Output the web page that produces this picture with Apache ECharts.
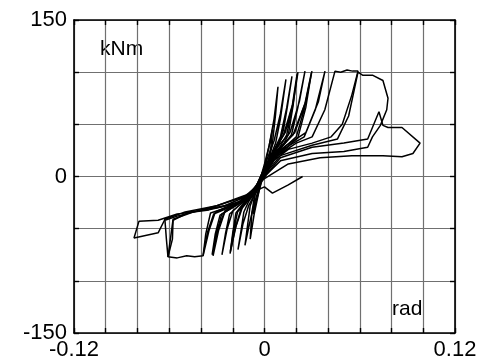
<!DOCTYPE html>
<html>
<head>
<meta charset="utf-8">
<script src="https://cdn.jsdelivr.net/npm/echarts@6/dist/echarts.min.js"></script>
<style>
  html, body { margin: 0; padding: 0; background: #fff; }
  #chart { width: 486px; height: 362px; }
</style>
</head>
<body>
<div id="chart"></div>
<script>
// Tick labels shown on the axes (grid lines every 0.02 rad / 50 kNm)
const xTickLabels = ['-0.12', '0', '0.12'];
const yTickLabels = ['-150', '0', '150'];

// Hysteresis cycles, [rotation rad, moment kNm]
const loop1 = [[0, 0], [0.002, 12], [0.004, 28], [0.005, 45], [0.003, 30], [0.000, 8], [-0.003, -6], [-0.006, -18],
  [-0.007, -36], [-0.005, -22], [-0.002, -6], [0.000, 4]];
const loop2 = [[0.000, 4], [0.003, 16], [0.005, 32], [0.007, 60], [0.0085, 86], [0.006, 55], [0.003, 30], [0.000, 12],
  [-0.003, -4], [-0.006, -16], [-0.008, -35], [-0.009, -60], [-0.0065, -36], [-0.004, -18], [-0.002, -4], [0.001, 8]];
const loop3 = [[0.001, 8], [0.004, 20], [0.007, 32], [0.010, 55], [0.0135, 93], [0.010, 60], [0.006, 34], [0.002, 18],
  [-0.002, 0], [-0.006, -16], [-0.009, -28], [-0.0105, -45], [-0.0123, -66], [-0.009, -42], [-0.006, -24], [-0.003, -8], [0.000, 6]];
const loop4 = [[0.000, 6], [0.005, 20], [0.009, 30], [0.012, 45], [0.0145, 68], [0.0173, 96], [0.014, 66], [0.010, 38],
  [0.005, 22], [0.000, 6], [-0.005, -12], [-0.010, -24], [-0.013, -34], [-0.0148, -52], [-0.0167, -70], [-0.0135, -45],
  [-0.010, -28], [-0.005, -14], [0.000, 2]];
const loop5 = [[0.000, 2], [0.005, 20], [0.010, 29], [0.014, 40], [0.0175, 66], [0.0211, 100], [0.018, 70], [0.013, 42],
  [0.007, 27], [0.001, 10], [-0.005, -10], [-0.012, -24], [-0.017, -34], [-0.0195, -52], [-0.0217, -74], [-0.0185, -50],
  [-0.015, -32], [-0.008, -18], [-0.002, -2]];
const loop5b = [[-0.002, -2], [0.006, 18], [0.011, 28], [0.015, 40], [0.018, 68], [0.0205, 98], [0.0175, 68], [0.012, 40],
  [0.006, 25], [0.000, 8], [-0.006, -12], [-0.013, -25], [-0.018, -35], [-0.020, -54], [-0.0215, -72], [-0.018, -48],
  [-0.014, -30], [-0.007, -17], [-0.002, -2]];
const loop6 = [[-0.002, -2], [0.005, 20], [0.012, 30], [0.017, 40], [0.021, 66], [0.0255, 101], [0.022, 72], [0.016, 42],
  [0.008, 28], [0.001, 12], [-0.006, -12], [-0.014, -25], [-0.022, -36], [-0.0245, -54], [-0.0268, -75], [-0.0235, -50],
  [-0.020, -33], [-0.010, -20], [-0.003, -4]];
const loop7 = [[-0.003, -4], [0.006, 20], [0.014, 30], [0.020, 38], [0.025, 64], [0.0299, 101], [0.026, 72], [0.019, 42],
  [0.010, 28], [0.002, 12], [-0.006, -14], [-0.016, -26], [-0.027, -36], [-0.030, -54], [-0.0324, -76], [-0.029, -52],
  [-0.025, -34], [-0.012, -22], [-0.003, -6]];
const loop7b = [[-0.003, -6], [0.007, 18], [0.015, 29], [0.021, 37], [0.026, 66], [0.0295, 99], [0.0255, 70], [0.018, 40],
  [0.009, 26], [0.001, 10], [-0.007, -15], [-0.017, -27], [-0.028, -37], [-0.031, -55], [-0.0330, -75], [-0.0295, -50],
  [-0.025, -33], [-0.012, -21], [-0.003, -6]];
const loop8 = [[-0.003, -6], [0.007, 20], [0.016, 30], [0.025, 38], [0.032, 64], [0.0381, 101], [0.034, 72], [0.026, 42],
  [0.014, 30], [0.003, 14], [-0.006, -14], [-0.018, -27], [-0.032, -36], [-0.036, -54], [-0.0387, -76], [-0.035, -52],
  [-0.031, -34], [-0.016, -24], [-0.004, -8]];
const loop9 = [[-0.004, -8], [0.008, 20], [0.020, 32], [0.030, 38], [0.038, 64], [0.0444, 101], [0.048, 100], [0.052, 102],
  [0.0555, 101], [0.0589, 101], [0.055, 78], [0.049, 50], [0.042, 38], [0.030, 32], [0.015, 26], [0.003, 12],
  [-0.006, -16], [-0.020, -28], [-0.034, -35], [-0.037, -55], [-0.0387, -76], [-0.044, -77], [-0.049, -76],
  [-0.055, -78], [-0.0608, -77], [-0.0576, -41], [-0.045, -34], [-0.025, -28], [-0.010, -18], [-0.003, -4]];
const loop10 = [[-0.003, -4], [0.010, 20], [0.030, 30], [0.046, 36], [0.053, 58], [0.0589, 100], [0.062, 97],
  [0.0683, 97], [0.0746, 92], [0.0778, 75], [0.077, 64], [0.073, 49], [0.068, 38], [0.065, 28], [0.050, 24],
  [0.030, 22], [0.010, 15], [0.000, 0], [-0.010, -22], [-0.030, -30], [-0.040, -32], [-0.055, -38], [-0.0627, -42],
  [-0.0618, -60], [-0.0608, -77], [-0.058, -60], [-0.0576, -42], [-0.050, -36], [-0.030, -28], [-0.010, -18], [-0.002, -4]];
const loop11 = [[-0.002, -4], [0.010, 18], [0.030, 28], [0.050, 32], [0.065, 36], [0.0721, 62], [0.0746, 49],
  [0.0778, 47], [0.0866, 47], [0.098, 32], [0.0935, 22], [0.0866, 19], [0.0746, 20], [0.055, 20], [0.035, 18],
  [0.015, 12], [0.000, -2], [-0.015, -25], [-0.035, -32], [-0.055, -36], [-0.067, -42], [-0.0791, -43],
  [-0.0822, -59], [-0.067, -54], [-0.0627, -41], [-0.050, -34], [-0.030, -28], [-0.012, -18], [0.000, -10],
  [0.005, -16], [0.015, -8], [0.024, 0]];

const loops = [loop1, loop2, loop3, loop4, loop5, loop5b, loop6, loop7, loop7b, loop8, loop9, loop10, loop11];

const FONT = '"Liberation Sans", Arial, sans-serif';

function pick(labels) {
  return (v) => {
    const s = String(Number(v.toFixed(2)));
    return labels.includes(s) ? s : '';
  };
}

const frameAxis = {
  axisLine: { show: true, onZero: false, lineStyle: { color: '#000', width: 1.6 } },
  axisTick: { show: true, inside: true, length: 5, lineStyle: { color: '#000', width: 1.4 } },
};

const chart = echarts.init(document.getElementById('chart'), null, { renderer: 'canvas' });

chart.setOption({
  animation: false,
  backgroundColor: '#fff',
  grid: { left: 74, right: 31, top: 20, bottom: 29, containLabel: false },
  xAxis: [
    {
      type: 'value', min: -0.12, max: 0.12, interval: 0.02, position: 'bottom',
      ...frameAxis,
      axisLabel: { formatter: pick(xTickLabels), color: '#000', fontSize: 22, fontFamily: FONT, margin: 6, showMinLabel: true, showMaxLabel: true },
      splitLine: { show: true, lineStyle: { color: '#707070', width: 1.2 } },
    },
    {
      type: 'value', min: -0.12, max: 0.12, interval: 0.02, position: 'top',
      ...frameAxis,
      axisLabel: { show: false },
      splitLine: { show: false },
    },
  ],
  yAxis: [
    {
      type: 'value', min: -150, max: 150, interval: 50, position: 'left',
      ...frameAxis,
      axisLabel: { formatter: pick(yTickLabels), color: '#000', fontSize: 22, fontFamily: FONT, margin: 7, showMinLabel: true, showMaxLabel: true },
      splitLine: { show: true, lineStyle: { color: '#707070', width: 1.2 } },
    },
    {
      type: 'value', min: -150, max: 150, interval: 50, position: 'right',
      ...frameAxis,
      axisLabel: { show: false },
      splitLine: { show: false },
    },
  ],
  graphic: [
    { type: 'text', left: 100, top: 39, style: { text: 'kNm', font: '21px ' + FONT, fill: '#000' } },
    { type: 'text', left: 392, top: 299, style: { text: 'rad', font: '21px ' + FONT, fill: '#000' } },
  ],
  series: loops.map((d) => ({
    type: 'line',
    data: d,
    showSymbol: false,
    smooth: false,
    lineStyle: { color: '#000', width: 1.5 },
    z: 5,
  })),
});
</script>
</body>
</html>
